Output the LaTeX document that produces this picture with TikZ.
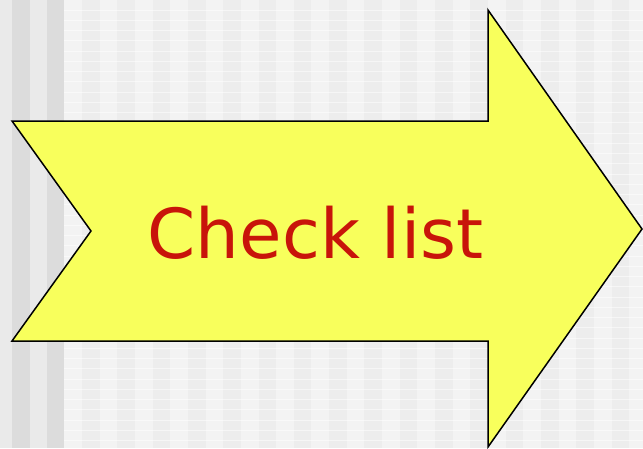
\documentclass[tikz,border=0pt]{standalone}
\usepackage{fontspec}
\newfontfamily\labelfont{DejaVu Sans}
\definecolor{stripeLight}{HTML}{EAEAEA}
\definecolor{stripeDark}{HTML}{DCDCDC}
\definecolor{bandLight}{HTML}{F3F3F3}
\definecolor{bandDark}{HTML}{EDEDED}
\definecolor{arrowYellow}{HTML}{F8FF5C}
\definecolor{labelRed}{HTML}{C8140A}
\tikzset{
  arrowshape/.style={draw=black, fill=arrowYellow, line width=1.5pt, line join=miter},
  bigtext/.style={font=\labelfont\fontsize{69}{80}\selectfont, text=labelRed, inner sep=0pt},
  gridline/.style={draw=white, line width=0.9pt, opacity=0.55}
}
\begin{document}
\begin{tikzpicture}[x=1pt,y=-1pt]
\useasboundingbox (0,0) rectangle (643,448);
% background
\fill[stripeLight] (0,0) rectangle (643,448);
\fill[stripeDark] (12,0) rectangle (30,448);
\fill[stripeDark] (47,0) rectangle (64,448);
\fill[bandLight] (64,0) rectangle (643,448);
\foreach \i in {0,...,16} \fill[bandDark] ({82+35.3*\i},0) rectangle ++(17.6,448);
\foreach \j in {0,...,42} \draw[gridline] (64,{10.25*\j+10}) -- (643,{10.25*\j+10});
% arrow
\coordinate (tailTop) at (12,121);
\coordinate (notch) at (91,231);
\coordinate (tailBot) at (12,341);
\coordinate (shaftBot) at (488,341);
\coordinate (headBot) at (488,447);
\coordinate (tip) at (642,229);
\coordinate (headTop) at (488,10);
\coordinate (shaftTop) at (488,121);
\draw[arrowshape] (tailTop) -- (notch) -- (tailBot) -- (shaftBot) -- (headBot) -- (tip) -- (headTop) -- (shaftTop) -- cycle;
\node[bigtext, anchor=base] (label) at (315.5,258) {Check list};
\end{tikzpicture}
\end{document}
